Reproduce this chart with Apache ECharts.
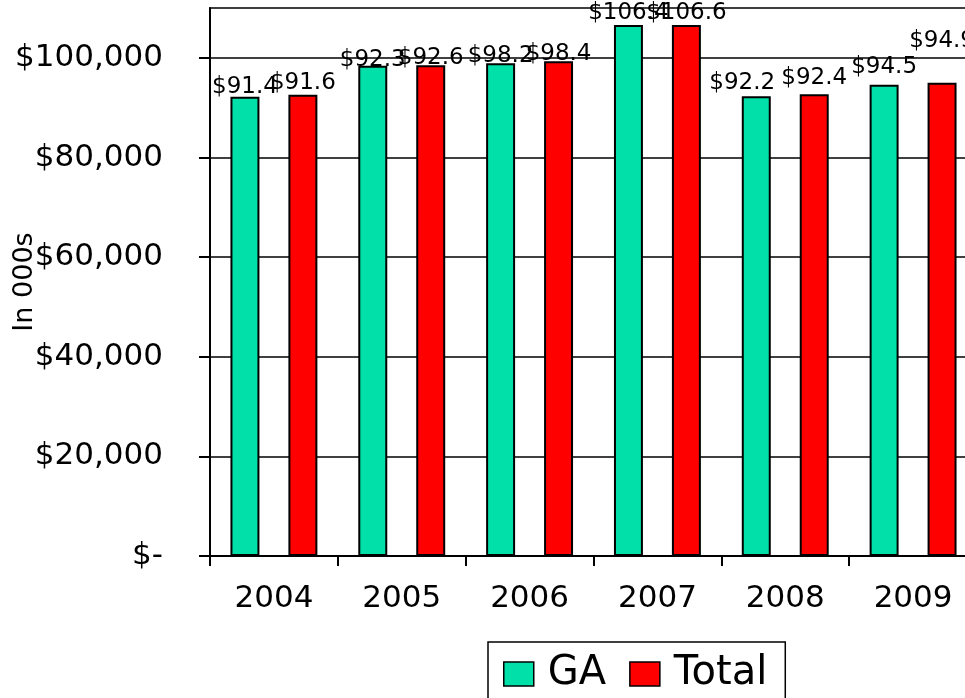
<!DOCTYPE html>
<html>
<head>
<meta charset="utf-8">
<script src="https://cdn.jsdelivr.net/npm/echarts@6/dist/echarts.min.js"></script>
<style>
html,body{margin:0;padding:0;background:#fff;}
#chart{width:965px;height:698px;}
</style>
</head>
<body>
<div id="chart"></div>
<script>
const categories = ['2004', '2005', '2006', '2007', '2008', '2009'];
const gaValues = [92200, 98400, 98900, 106600, 92300, 94600];
const totalValues = [92600, 98500, 99300, 106600, 92700, 95000];
const gaLabels = ['$91.4', '$92.3', '$98.2', '$106.4', '$92.2', '$94.5'];
const totalLabels = ['$91.6', '$92.6', '$98.4', '$106.6', '$92.4', '$94.9'];
const yTicks = [0, 20000, 40000, 60000, 80000, 100000];

const FONT = 'DejaVu Sans';
function money(v) {
  if (v === 0) return '$-';
  return '$' + String(v).replace(/\B(?=(\d{3})+(?!\d))/g, ',');
}
function makeSeries(name, values, labels, color, nudge) {
  return {
    name: name,
    type: 'bar',
    barGap: '100%',
    barCategoryGap: '32%',
    data: values.map((v, i) => ({ value: v, label: { offset: nudge[i] } })),
    itemStyle: { color: color, borderColor: '#000', borderWidth: 2 },
    label: {
      show: true,
      position: 'top',
      distance: 0,
      fontFamily: FONT,
      fontSize: 23,
      color: '#000',
      formatter: p => labels[p.dataIndex]
    }
  };
}

const chart = echarts.init(document.getElementById('chart'), null, { renderer: 'canvas' });
chart.setOption({
  animation: false,
  backgroundColor: '#fff',
  grid: {
    left: 210, top: 8, right: -12, bottom: 142,
    containLabel: false,
    outerBoundsMode: 'none',
    show: true, borderColor: '#000', borderWidth: 1.5, backgroundColor: 'transparent'
  },
  legend: {
    left: 488, top: 642,
    orient: 'horizontal',
    icon: 'rect',
    itemWidth: 30, itemHeight: 24, itemGap: 23,
    borderColor: '#000', borderWidth: 1.5,
    padding: [12, 18, 14, 15],
    textStyle: { fontFamily: FONT, fontSize: 40, color: '#000', padding: [0, 0, 0, 9] },
    itemStyle: { borderColor: '#000', borderWidth: 1.5 },
    data: ['GA', 'Total']
  },
  xAxis: {
    type: 'category',
    data: categories,
    axisLine: { lineStyle: { color: '#000', width: 2 } },
    axisTick: { show: true, length: 10, lineStyle: { color: '#000', width: 2 } },
    axisLabel: { fontFamily: FONT, fontSize: 31, color: '#000', margin: 27 }
  },
  yAxis: {
    type: 'value',
    min: 0, max: 110000, interval: 20000,
    name: 'In 000s',
    nameLocation: 'middle',
    nameRotate: 90,
    nameGap: 172,
    nameMoveOverlap: false,
    nameTextStyle: { fontFamily: FONT, fontSize: 27, color: '#000' },
    axisLine: { show: true, lineStyle: { color: '#000', width: 2 } },
    axisTick: { show: true, length: 11, customValues: yTicks, lineStyle: { color: '#000', width: 2 } },
    axisLabel: { fontFamily: FONT, fontSize: 31, color: '#000', margin: 47, customValues: yTicks, formatter: money },
    splitLine: { show: true, lineStyle: { color: '#000', width: 1.5 } }
  },
  series: [
    makeSeries('GA', gaValues, gaLabels, '#00E0A8',
      [[0, 2], [0, 6], [0, 4], [0, 0], [-14, -2], [0, -6]]),
    makeSeries('Total', totalValues, totalLabels, '#FF0000',
      [[0, 0], [0, 4], [0, 4], [0, 0], [0, -5], [0, -30]])
  ]
});
</script>
</body>
</html>
